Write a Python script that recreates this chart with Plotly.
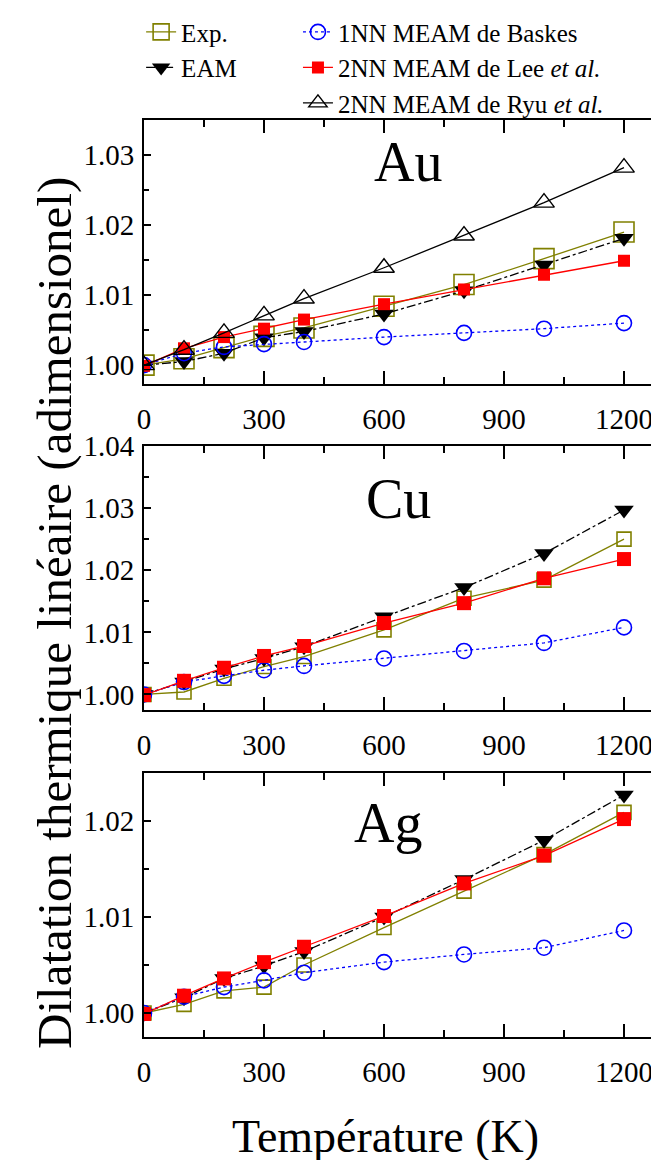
import plotly.graph_objects as go

# ---------------- data ----------------
T = [0, 100, 200, 300, 400, 600, 800, 1000, 1200]
x_ticks = [0, 300, 600, 900, 1200]

au_exp = [1.0000, 1.0009, 1.0025, 1.0041, 1.0053, 1.0084, 1.0115, 1.0152, 1.0190]
au_eam = [1.0000, 1.0005, 1.0017, 1.0039, 1.0048, 1.0073, 1.0106, 1.0143, 1.0181]
au_1nn = [1.0000, 1.0017, 1.0026, 1.0030, 1.0033, 1.0040, 1.0046, 1.0052, 1.0060]
au_lee = [0.9999, 1.0024, 1.0040, 1.0052, 1.0065, 1.0087, 1.0108, 1.0129, 1.0149]
au_ryu = [1.0000, 1.0022, 1.0046, 1.0071, 1.0095, 1.0139, 1.0185, 1.0232, 1.0282]

cu_exp = [1.0000, 1.0004, 1.0026, 1.0045, 1.0061, 1.0104, 1.0155, 1.0184, 1.0250]
cu_eam = [1.0000, 1.0020, 1.0041, 1.0058, 1.0077, 1.0125, 1.0172, 1.0227, 1.0297]
cu_1nn = [1.0000, 1.0020, 1.0030, 1.0039, 1.0046, 1.0058, 1.0070, 1.0083, 1.0108]
cu_lee = [0.9999, 1.0022, 1.0043, 1.0062, 1.0078, 1.0115, 1.0147, 1.0187, 1.0218]

ag_exp = [1.0000, 1.0009, 1.0023, 1.0027, 1.0050, 1.0089, 1.0127, 1.0165, 1.0209]
ag_eam = [1.0000, 1.0016, 1.0036, 1.0049, 1.0064, 1.0100, 1.0139, 1.0180, 1.0227]
ag_1nn = [1.0000, 1.0017, 1.0027, 1.0034, 1.0042, 1.0053, 1.0061, 1.0068, 1.0086]
ag_lee = [0.9999, 1.0018, 1.0036, 1.0053, 1.0069, 1.0101, 1.0135, 1.0164, 1.0202]

names = {
    "exp": "Exp.",
    "eam": "EAM",
    "1nn": "1NN MEAM de Baskes",
    "lee": "2NN MEAM de Lee <i>et al.</i>",
    "ryu": "2NN MEAM de Ryu <i>et al.</i>",
}

# ---------------- styles ----------------
FONT = "Liberation Serif"
styles = {
    "exp": dict(line=dict(color="#808000", width=1.3),
                marker=dict(symbol="square-open", color="#808000", line=dict(width=1.6, color="#808000"))),
    "eam": dict(line=dict(color="black", width=1.3, dash="dashdot"),
                marker=dict(symbol="triangle-down", color="black", size=17)),
    "1nn": dict(line=dict(color="#0000ff", width=1.3, dash="dot"),
                marker=dict(symbol="circle-open", color="#0000ff", size=15, line=dict(width=1.6, color="#0000ff"))),
    "lee": dict(line=dict(color="#ff0000", width=1.3),
                marker=dict(symbol="square", color="#ff0000")),
    "ryu": dict(line=dict(color="black", width=1.3),
                marker=dict(symbol="triangle-up-open", color="black", size=18, line=dict(width=1.4, color="black"))),
}
legend_of = {"exp": "legend", "eam": "legend", "1nn": "legend2", "lee": "legend2", "ryu": "legend2"}

panels = [
    dict(label="Au", data={"exp": au_exp, "eam": au_eam, "1nn": au_1nn, "lee": au_lee, "ryu": au_ryu},
         yrange=[0.9973, 1.035], dom=[0.7121, 1.0], exp_size=20, lee_size=12, lx=0.508, ly=0.84),
    dict(label="Cu", data={"exp": cu_exp, "eam": cu_eam, "1nn": cu_1nn, "lee": cu_lee},
         yrange=[0.9975, 1.04], dom=[0.3566, 0.6445], exp_size=14, lee_size=14, lx=0.49, ly=0.80),
    dict(label="Ag", data={"exp": ag_exp, "eam": ag_eam, "1nn": ag_1nn, "lee": ag_lee},
         yrange=[0.9975, 1.025], dom=[0.0, 0.2879], exp_size=14, lee_size=14, lx=0.47, ly=0.81),
]

fig = go.Figure()
order = ["exp", "eam", "1nn", "lee", "ryu"]
annotations = []
for i, p in enumerate(panels):
    sfx = "" if i == 0 else str(i + 1)
    for key in order:
        if key not in p["data"]:
            continue
        st = styles[key]
        marker = dict(st["marker"])
        if key == "exp":
            marker["size"] = p["exp_size"]
        if key == "lee":
            marker["size"] = p["lee_size"]
        fig.add_trace(go.Scatter(
            x=T, y=p["data"][key], mode="lines+markers", name=names[key],
            line=st["line"], marker=marker,
            xaxis="x" + sfx, yaxis="y" + sfx,
            showlegend=(i == 0), legend=legend_of[key], legendgroup=key,
        ))
    axis_common = dict(showline=True, linewidth=2, linecolor="black", mirror="allticks",
                       ticks="inside", tickwidth=2, tickcolor="black", showgrid=False, zeroline=False,
                       tickfont=dict(family=FONT, size=29, color="black"), automargin=False)
    fig.update_layout(**{
        "xaxis" + sfx: dict(axis_common, range=[0, 1300], tickvals=x_ticks, ticklen=13,
                            minor=dict(ticks="inside", ticklen=7, dtick=150, tickwidth=2, tickcolor="black"),
                            anchor="y" + sfx, domain=[0, 1], ticklabelstandoff=8),
        "yaxis" + sfx: dict(axis_common, range=p["yrange"], dtick=0.01, tick0=1.0, tickformat=".2f", ticklen=7,
                            minor=dict(ticks="inside", ticklen=5, dtick=0.005, tickwidth=1.5, tickcolor="black"),
                            anchor="x" + sfx, domain=p["dom"], ticklabelstandoff=2),
    })
    annotations.append(dict(text=p["label"], xref=("x" + sfx + " domain"), yref=("y" + sfx + " domain"),
                            x=p["lx"], y=p["ly"], showarrow=False, xanchor="center", yanchor="middle",
                            font=dict(family=FONT, size=56, color="black")))

annotations.append(dict(text="Dilatation thermique linéaire (adimensionel)", xref="paper", yref="paper",
                        x=-0.172, y=0.462, textangle=-90, showarrow=False, xanchor="center", yanchor="middle",
                        font=dict(family=FONT, size=49, color="black")))
annotations.append(dict(text="Température (K)", xref="paper", yref="paper",
                        x=0.465, y=-0.109, showarrow=False, xanchor="center", yanchor="middle",
                        font=dict(family=FONT, size=46, color="black")))

fig.update_layout(
    width=659, height=1160,
    margin=dict(l=136, r=3, t=112, b=131, autoexpand=False),
    paper_bgcolor="white", plot_bgcolor="white",
    font=dict(family=FONT, color="black"),
    annotations=annotations,
    legend=dict(xref="container", yref="container", x=0.202, y=0.999, xanchor="left", yanchor="top",
                bgcolor="rgba(0,0,0,0)", font=dict(family=FONT, size=25, color="black"),
                tracegroupgap=0, itemsizing="trace"),
    legend2=dict(xref="container", yref="container", x=0.440, y=0.999, xanchor="left", yanchor="top",
                 bgcolor="rgba(0,0,0,0)", font=dict(family=FONT, size=25, color="black"),
                 tracegroupgap=0, itemsizing="trace"),
)

fig.write_html("out.html")
